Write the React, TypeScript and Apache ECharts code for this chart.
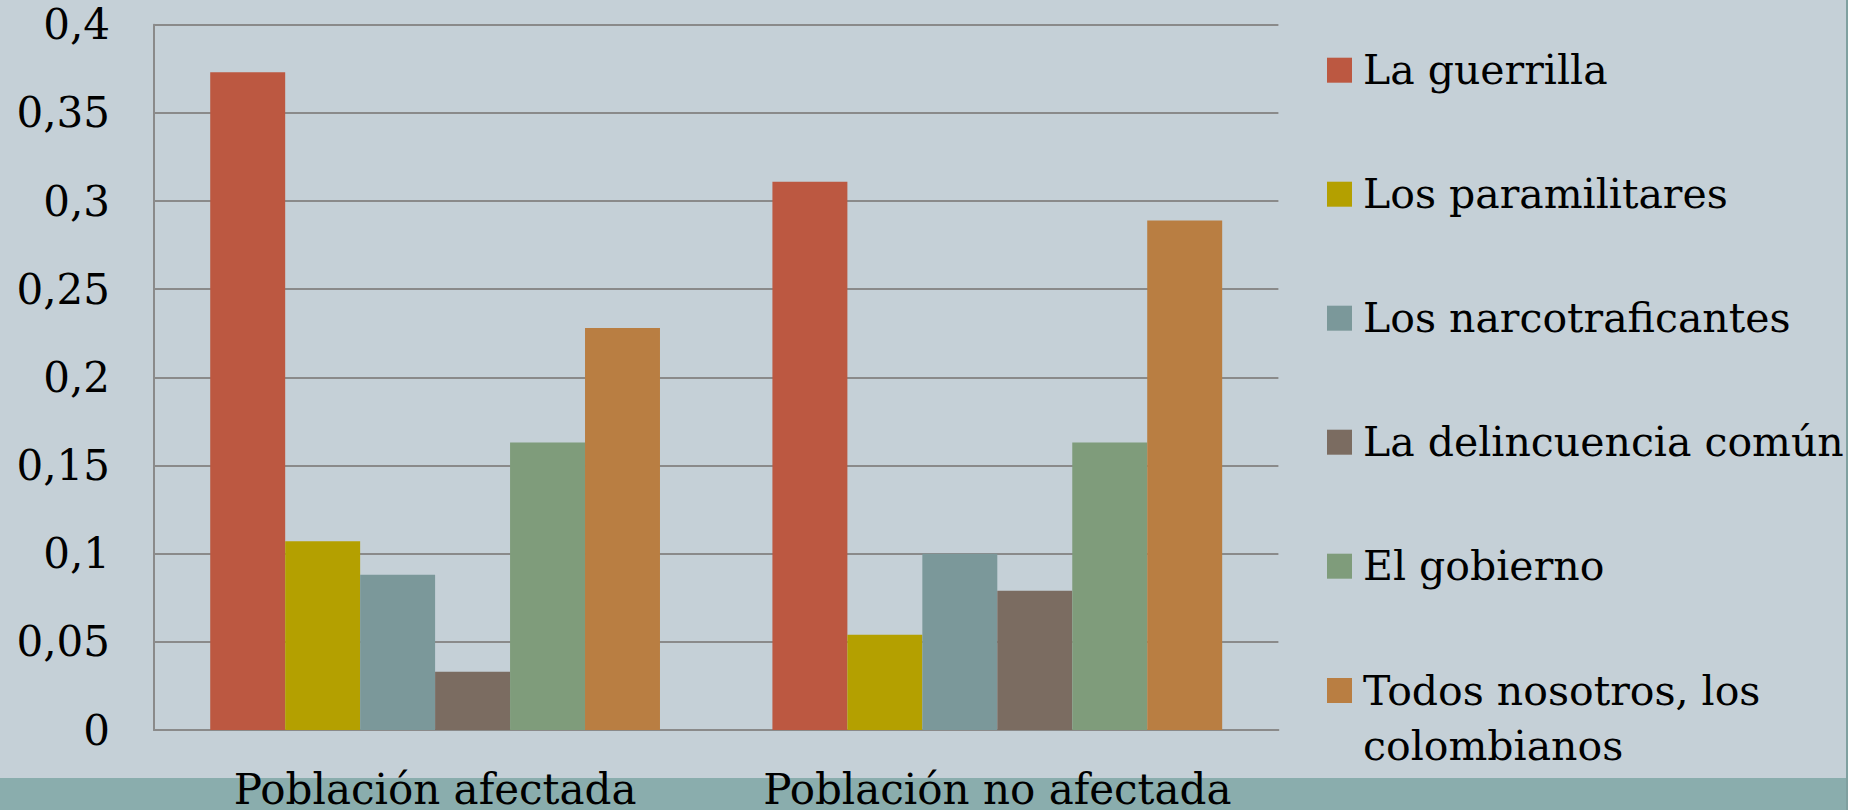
import React, { useEffect, useRef } from "react";
import * as echarts from "echarts";

const categories = ["Población afectada", "Población no afectada"];
const seriesNames = [
  "La guerrilla",
  "Los paramilitares",
  "Los narcotraficantes",
  "La delincuencia común",
  "El gobierno",
  "Todos nosotros, los colombianos",
];
const guerrilla = [0.373, 0.311];
const paramilitares = [0.107, 0.054];
const narcotraficantes = [0.088, 0.1];
const delincuencia = [0.033, 0.079];
const gobierno = [0.163, 0.163];
const todosNosotros = [0.228, 0.289];
const yTickLabels = ["0", "0,05", "0,1", "0,15", "0,2", "0,25", "0,3", "0,35", "0,4"];
const colors = ["#BC5841", "#B4A000", "#7B989A", "#7B6C61", "#7F9C7B", "#B97E42"];

const seriesValues = [guerrilla, paramilitares, narcotraficantes, delincuencia, gobierno, todosNosotros];

const FONT = "DejaVu Serif";

export default function App() {
  const ref = useRef<HTMLDivElement>(null);

  useEffect(() => {
    document.body.style.margin = "0";
    if (!ref.current) return;
    const chart = echarts.init(ref.current, null, { renderer: "svg" });
    const textBase = { fontFamily: FONT, fontSize: 42, color: "#000" };
    const legendText = { fontFamily: FONT, fontSize: 41, color: "#000", lineHeight: 55, padding: [0, 0, 0, 6] };
    chart.setOption({
      animation: false,
      backgroundColor: "transparent",
      color: colors,
      grid: { left: 154, top: 24.7, right: 567.6, bottom: 80, containLabel: false },
      legend: [
        {
          orient: "vertical",
          left: 1327,
          top: 42.7,
          padding: 0,
          icon: "rect",
          itemWidth: 25,
          itemHeight: 25,
          itemGap: 69,
          selectedMode: false,
          data: seriesNames.slice(0, 5),
          textStyle: legendText,
        },
        {
          orient: "vertical",
          left: 1327,
          top: 608,
          padding: 0,
          icon: "rect",
          itemWidth: 25,
          itemHeight: 25,
          selectedMode: false,
          data: seriesNames.slice(5),
          formatter: (name: string) => "\n" + name.replace(", los ", ", los\n"),
          textStyle: legendText,
        },
      ],
      xAxis: {
        type: "category",
        data: categories,
        axisTick: { show: false },
        axisLine: { lineStyle: { color: "#8a8a8a", width: 2 } },
        axisLabel: { ...textBase, margin: 38, interval: 0 },
      },
      yAxis: {
        type: "value",
        min: 0,
        max: 0.4,
        interval: 0.05,
        axisLine: { show: true, lineStyle: { color: "#8a8a8a", width: 2 } },
        axisTick: { show: false },
        splitLine: { lineStyle: { color: "#8a8a8a", width: 2 } },
        axisLabel: {
          ...textBase,
          margin: 44,
          formatter: (_v: number, i: number) => yTickLabels[i],
        },
      },
      series: seriesNames.map((name, i) => ({
        name,
        type: "bar",
        data: seriesValues[i],
        barGap: "0%",
        barCategoryGap: "20%",
        itemStyle: { color: colors[i] },
      })),
    });
    return () => chart.dispose();
  }, []);

  return (
    <div style={{ width: 1858, height: 810, background: "#ffffff" }}>
      <div
        ref={ref}
        style={{
          width: 1846,
          height: 810,
          borderRight: "2px solid #7FA0A0",
          background: "linear-gradient(to bottom, #C5D0D7 0px, #C5D0D7 778px, #8AADAD 778px, #8AADAD 810px)",
        }}
      />
    </div>
  );
}
